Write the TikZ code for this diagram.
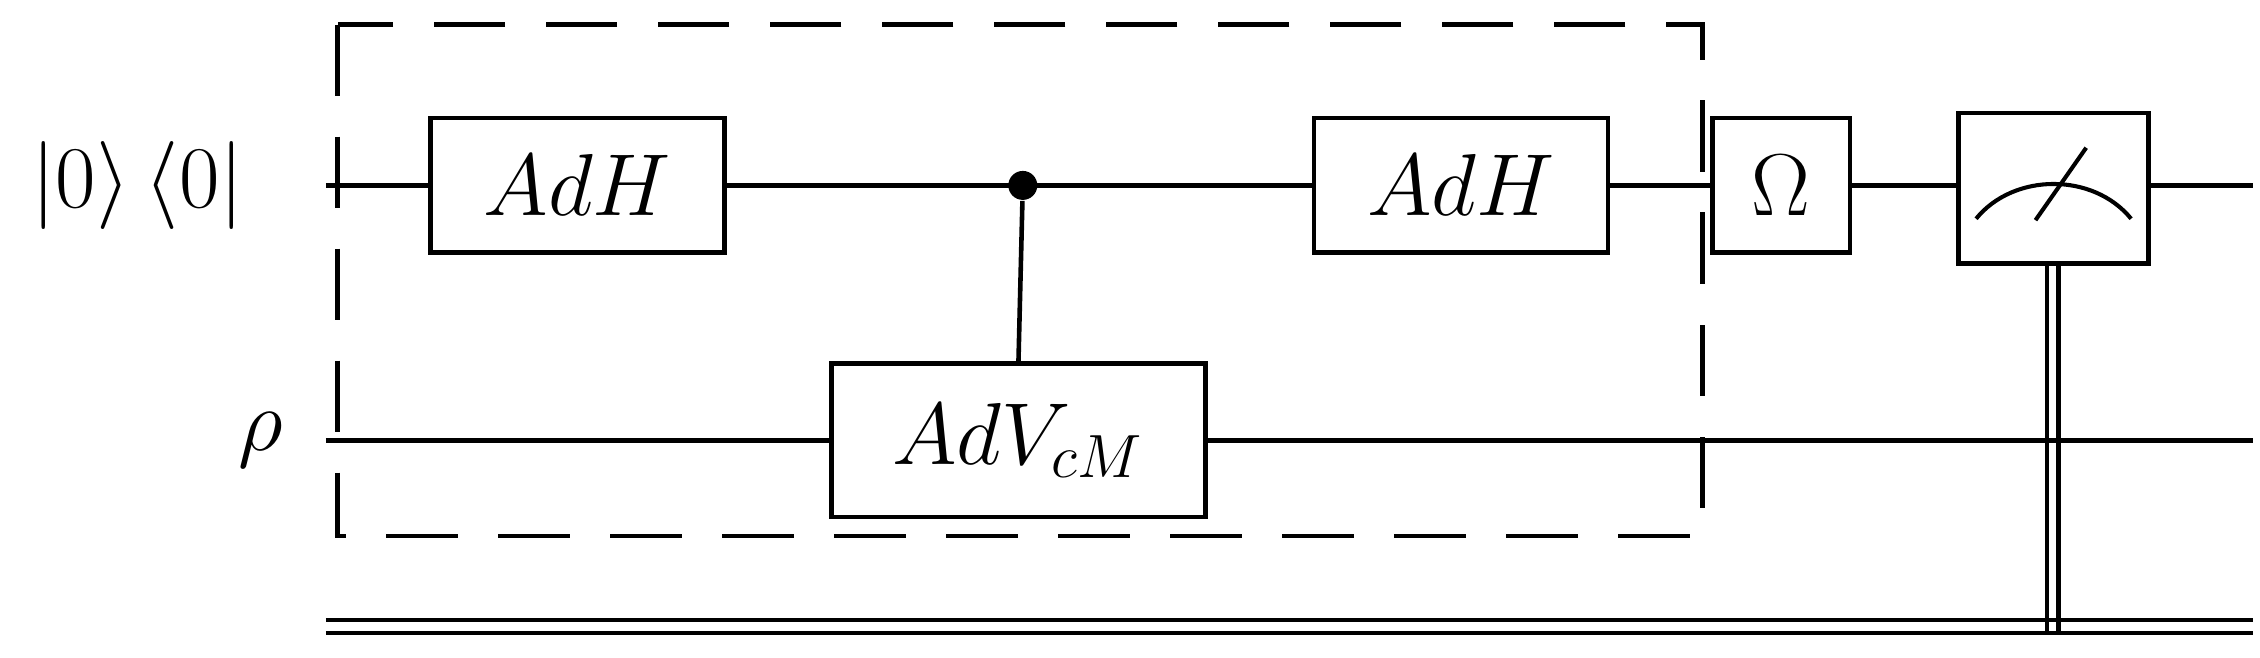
\documentclass[tikz,border=0pt]{standalone}
\begin{document}
\begin{tikzpicture}[
  gate/.style={draw,line width=0.9pt,fill=white,inner sep=0pt,font=\fontsize{18}{20}\selectfont},
  wire/.style={line width=0.9pt},
  lbl/.style={font=\fontsize{18}{20}\selectfont}]
\useasboundingbox (0,0) rectangle (15.6,4.54);
% wires
\coordinate (w1s) at (2.25,3.26); \coordinate (w1e) at (15.55,3.26);
\coordinate (w2s) at (2.25,1.50); \coordinate (w2e) at (15.55,1.50);
\coordinate (c1s) at (2.25,0.26); \coordinate (c1e) at (15.55,0.26);
\coordinate (c2s) at (2.25,0.17); \coordinate (c2e) at (15.55,0.17);
\draw[wire] (w1s)--(w1e);
\draw[wire] (w2s)--(w2e);
\draw[wire] (c1s)--(c1e);
\draw[wire] (c2s)--(c2e);
% dashed box
\draw[wire,dash pattern=on 14pt off 8pt] (2.33,4.37) rectangle (11.75,0.84);
% gates
\node[gate,minimum width=2.03cm,minimum height=0.93cm] (h1) at (3.985,3.26) {$AdH$};
\node[gate,minimum width=2.58cm,minimum height=1.06cm] (v) at (7.03,1.50) {$AdV_{cM}$};
\node[gate,minimum width=2.03cm,minimum height=0.93cm] (h2) at (10.085,3.26) {$AdH$};
\node[gate,minimum width=0.95cm,minimum height=0.93cm] (om) at (12.295,3.26) {$\Omega$};
\node[gate,minimum width=1.31cm,minimum height=1.04cm] (m) at (14.175,3.24) {};
\node[circle,fill=black,inner sep=0pt,minimum size=0.2cm] (dot) at (7.06,3.26) {};
\draw[wire] (dot)--(v.north);
% meter
\draw[line width=0.8pt] (13.64,3.03) .. controls (13.9,3.35) and (14.45,3.35) .. (14.71,3.03);
\draw[line width=0.8pt] (14.05,3.02)--(14.4,3.52);
\coordinate (ma) at (14.13,0.17); \coordinate (mb) at (14.21,0.17);
\draw[wire] (m.south -| ma)--(ma);
\draw[wire] (m.south -| mb)--(mb);
% labels
\node[lbl] (l1) at (0.95,3.26) {$|0\rangle\,\langle 0|$};
\node[lbl] (l2) at (1.8,1.50) {$\rho$};
\end{tikzpicture}
\end{document}
